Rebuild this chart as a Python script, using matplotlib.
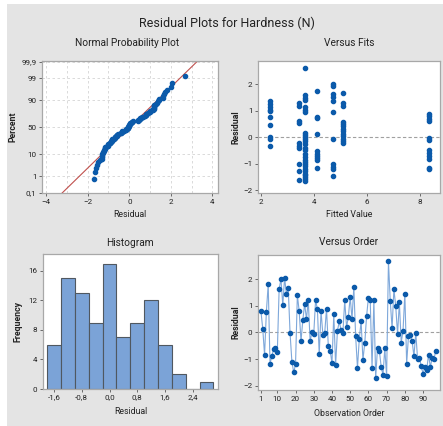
import matplotlib
matplotlib.use('Agg')
import matplotlib.pyplot as plt
import numpy as np
from matplotlib.patches import Rectangle
from statistics import NormalDist

plt.rcParams['font.family'] = ['Roboto', 'DejaVu Sans']

# residuals in observation order
residuals = [0.80, 0.14, -0.85, 0.78, 1.80, -1.18, -0.88, -0.63, -0.58, -0.73,
             1.62, 2.00, 1.02, 2.05, 1.43, 1.65, -0.03, -1.10, -1.50, -1.20,
             1.40, 0.80, -0.33, 0.46, 1.07, 0.50, 1.20, -0.33, 0.00, -0.06,
             1.20, 0.88, -0.82, 0.80, -0.08, -0.04, 0.88, -0.52, -0.68, -1.15,
             0.67, -1.22, 0.05, 0.42, 0.08, -0.02, 1.20, 0.20, 0.58, 1.33,
             0.50, 1.70, -0.15, -1.33, -0.24, 0.42, -1.03, -0.40, 0.60, 1.30,
             1.20, -1.33, 1.20, -1.70, -0.58, -0.68, -1.28, -1.60, -0.60, -1.65,
             2.67, 1.17, 0.15, 1.62, 0.98, -0.06, 1.12, -0.38, 0.05, 1.45,
             -1.17, -0.14, -0.10, -0.33, -0.90, -0.02, -1.00, -0.95, -1.27, -1.55,
             -1.30, -1.42, -0.83, -1.30, -0.95, -1.00, -0.68]

# versus fits: residuals grouped by fitted value
fit_values = [2.35, 3.44, 3.65, 4.10, 4.72, 5.09, 8.36]
fit_residuals = [
    [1.37, 1.27, 1.14, 1.04, 0.99, 0.77, 0.45, 0.01, -0.08, -0.31],
    [1.30, 1.20, 0.62, 0.54, -0.21, -0.34, -0.39, -1.02, -1.28, -1.62],
    [2.63, 1.58, 1.50, 1.40, 1.14, 1.02, 0.96, 0.18, 0.10, 0.01, -0.06,
     -0.15, -0.24, -0.39, -0.49, -0.62, -0.74, -0.84, -0.93, -1.02, -1.09,
     -1.18, -1.27, -1.37, -1.43, -1.50, -1.57, -1.65],
    [1.74, 0.77, 0.73, 0.14, -0.52, -0.62, -0.69, -0.77, -0.84, -1.14],
    [2.00, 1.94, 1.62, 1.52, 1.37, 0.96, -0.05, -1.02, -1.12, -1.21, -1.47],
    [1.67, 1.30, 1.18, 0.58, 0.52, 0.43, 0.33, 0.24, 0.14, 0.04, -0.05,
     -0.14, -0.21],
    [0.89, 0.81, 0.70, 0.60, -0.01, -0.09, -0.49, -0.60, -0.70, -0.80,
     -1.14, -1.20],
]

# histogram
hist_centers = [-1.6, -1.2, -0.8, -0.4, 0.0, 0.4, 0.8, 1.2, 1.6, 2.0, 2.4, 2.8]
hist_counts = [6, 15, 13, 9, 17, 7, 9, 12, 6, 2, 0, 1]

# normal probability axis
prob_ticks = [0.1, 1, 10, 50, 90, 99, 99.9]
prob_labels = ['0,1', '1', '10', '50', '90', '99', '99,9']

BLUE = '#0B5AAA'
LINEBLUE = '#7FA8DA'
SPINE = '#A8A8A8'
TXT = '#222222'

W, H = 443, 426
fig = plt.figure(figsize=(W / 100, H / 100), dpi=100)
fig.patch.set_facecolor('white')
fig.patches.append(Rectangle((7 / W, 0), 1, 1 - 4 / H, transform=fig.transFigure,
                             facecolor='#E4E4E4', edgecolor='none', zorder=-10))


def px_axes(l, t, r, b):
    return fig.add_axes([l / W, 1 - b / H, (r - l) / W, (b - t) / H])


def style(ax):
    for s in ax.spines.values():
        s.set_color(SPINE)
        s.set_linewidth(0.9)
    ax.tick_params(labelsize=5.8, colors='#555555', labelcolor=TXT, length=2.5, width=0.6, pad=1.5)


nd = NormalDist()

# ---- normal probability plot
ax1 = px_axes(42, 61, 218, 193)
style(ax1)
r = np.sort(np.array(residuals))
n = len(r)
zs = np.array([nd.inv_cdf((i + 1 - 0.3) / (n + 0.4)) for i in range(n)])
mu, sd = r.mean(), r.std(ddof=1)
zl = np.array([-3.3, 3.3])
ax1.plot(mu + sd * zl, zl, color='#C0504D', lw=0.8, zorder=2)
ax1.plot(r, zs, 'o', color=BLUE, ms=3.0, mec=BLUE, zorder=3)
yt = [nd.inv_cdf(p / 100) for p in prob_ticks]
ax1.set_yticks(yt)
ax1.set_yticklabels(prob_labels)
ax1.set_ylim(yt[0] - 0.02, yt[-1] + 0.05)
ax1.set_xlim(-4.2, 4.27)
ax1.set_xticks([-4, -2, 0, 2, 4])
ax1.set_xticks([-3, -1, 1, 3], minor=True)
ax1.tick_params(which='minor', length=0)
ax1.grid(True, which='both', ls=(0, (3, 3)), color='#D5D5D5', lw=0.6)
ax1.set_axisbelow(True)
ax1.set_xlabel('Residual', fontsize=6.3, color=TXT, labelpad=4)
ax1.set_ylabel('Percent', fontsize=6.3, color=TXT, fontweight='bold', labelpad=3)

# ---- versus fits
ax2 = px_axes(258, 61, 440, 193)
style(ax2)
for fv, res in zip(fit_values, fit_residuals):
    ax2.plot([fv] * len(res), res, 'o', color=BLUE, ms=3.0, mec=BLUE, zorder=3)
ax2.axhline(0, color='#A0A0A0', ls=(0, (3, 2)), lw=0.8, zorder=1)
ax2.set_xlim(1.88, 8.77)
ax2.set_ylim(-2.1, 2.88)
ax2.set_xticks([2, 4, 6, 8])
ax2.set_yticks([-2, -1, 0, 1, 2])
ax2.set_xlabel('Fitted Value', fontsize=6.3, color=TXT, labelpad=4)
ax2.set_ylabel('Residual', fontsize=6.3, color=TXT, fontweight='bold', labelpad=2)

# ---- histogram
ax3 = px_axes(43, 254, 218, 389)
style(ax3)
ax3.bar(hist_centers, hist_counts, width=0.4, color='#7BA3D7', edgecolor='#505860', lw=0.8)
ax3.set_xlim(-1.92, 3.13)
ax3.set_ylim(0, 18.3)
ax3.set_xticks([-1.6, -0.8, 0.0, 0.8, 1.6, 2.4])
ax3.set_xticklabels(['-1,6', '-0,8', '0,0', '0,8', '1,6', '2,4'])
ax3.set_yticks([0, 4, 8, 12, 16])
ax3.set_xlabel('Residual', fontsize=6.3, color=TXT, labelpad=5)
ax3.set_ylabel('Frequency', fontsize=6.3, color=TXT, fontweight='bold', labelpad=4)

# ---- versus order
ax4 = px_axes(258, 255, 440, 390)
style(ax4)
order = np.arange(1, len(residuals) + 1)
ax4.plot(order, residuals, '-', color=LINEBLUE, lw=0.8, zorder=2)
ax4.plot(order, residuals, 'o', color=BLUE, ms=3.0, mec=BLUE, zorder=3)
ax4.axhline(0, color='#A0A0A0', ls=(0, (3, 2)), lw=0.8, zorder=1)
ax4.set_xlim(-0.6, 99.3)
ax4.set_ylim(-2.16, 2.9)
ax4.set_xticks([1, 10, 20, 30, 40, 50, 60, 70, 80, 90])
ax4.set_yticks([-2, -1, 0, 1, 2])
ax4.set_xlabel('Observation Order', fontsize=6.3, color=TXT, labelpad=5)
ax4.set_ylabel('Residual', fontsize=6.3, color=TXT, fontweight='bold', labelpad=2)

# titles
fig.text(227 / W, 1 - 23 / H, 'Residual Plots for Hardness (N)', ha='center', va='center',
         fontsize=9.0, color=TXT)
fig.text(127 / W, 1 - 43 / H, 'Normal Probability Plot', ha='center', va='center', fontsize=7.3, color=TXT)
fig.text(349 / W, 1 - 43 / H, 'Versus Fits', ha='center', va='center', fontsize=7.3, color=TXT)
fig.text(130 / W, 1 - 243 / H, 'Histogram', ha='center', va='center', fontsize=7.3, color=TXT)
fig.text(349 / W, 1 - 242 / H, 'Versus Order', ha='center', va='center', fontsize=7.3, color=TXT)

fig.savefig('out.png', dpi=100)
